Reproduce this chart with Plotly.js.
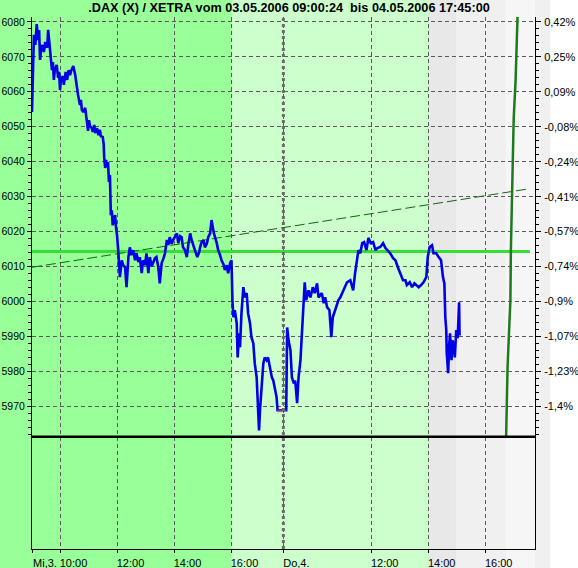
<!DOCTYPE html>
<html><head><meta charset="utf-8">
<script src="https://cdn.plot.ly/plotly-3.0.1.min.js"></script>
<style>html,body{margin:0;padding:0;background:#fff}#chart{width:578px;height:568px}</style>
</head><body><div id="chart"></div>
<script>
// ---------- DATA ----------
const chartTitle = '.DAX (X) / XETRA vom 03.05.2006 09:00:24  bis 04.05.2006 17:45:00';

const day1Times = ['09:00','09:02','09:04','09:07','09:10','09:13','09:15','09:17','09:19','09:22','09:25','09:28','09:32','09:34','09:37','09:40','09:42','09:44','09:46','09:48','09:52','09:55','09:57','09:59','10:01','10:05','10:07','10:11','10:14','10:17','10:20','10:23','10:27','10:31','10:34','10:37','10:41','10:43','10:45','10:48','10:52','10:55','10:58','11:00','11:02','11:06','11:08','11:11','11:13','11:17','11:20','11:23','11:25','11:29','11:31','11:32','11:34','11:36','11:38','11:40','11:42','11:44','11:46','11:48','11:50','11:53','11:55','11:57','11:59','12:02','12:05','12:09','12:12','12:16','12:19','12:23','12:26','12:29','12:33','12:37','12:40','12:44','12:47','12:51','12:54','12:58','13:01','13:05','13:08','13:12','13:15','13:19','13:22','13:26','13:29','13:33','13:37','13:40','13:44','13:47','13:50','13:54','13:57','14:01','14:05','14:08','14:12','14:15','14:18','14:22','14:26','14:29','14:33','14:36','14:40','14:43','14:48','14:52','14:54','14:57','15:01','15:04','15:08','15:11','15:15','15:18','15:21','15:23','15:29','15:32','15:36','15:39','15:43','15:46','15:50','15:53','15:57','16:00','16:02','16:04','16:07','16:11','16:13','16:16','16:18','16:21','16:25','16:28','16:32','16:35','16:39','16:42','16:46','16:49','16:53','16:56','16:58','17:00','17:03','17:07','17:10','17:14','17:17','17:21','17:25','17:28','17:31','17:35','17:37','17:45'];
const day1Prices = [6054.2,6069.1,6076.3,6073.4,6079.4,6074.8,6077.7,6069.1,6072.0,6073.4,6071.4,6074.3,6072.6,6077.7,6073.4,6070.5,6066.2,6068.5,6063.4,6066.2,6067.7,6064.0,6065.7,6060.5,6063.4,6064.5,6062.0,6065.7,6063.4,6066.2,6064.8,6066.2,6067.4,6064.8,6061.4,6059.1,6056.2,6057.7,6054.8,6054.2,6055.4,6052.5,6048.8,6051.9,6050.2,6049.6,6048.5,6050.5,6048.2,6049.6,6047.6,6049.1,6047.3,6047.1,6044.8,6041.3,6038.2,6040.5,6038.5,6039.9,6034.2,6036.2,6024.7,6026.1,6021.8,6023.9,6024.7,6021.0,6019.0,6013.8,6007.0,6011.8,6010.4,6009.8,6004.1,6012.7,6015.5,6013.3,6014.7,6011.8,6013.8,6011.3,6012.7,6008.1,6011.8,6010.4,6013.8,6008.1,6012.7,6010.1,6011.0,6012.4,6012.7,6009.8,6005.2,6011.0,6012.4,6013.8,6017.6,6016.2,6018.4,6016.5,6017.6,6018.7,6019.5,6016.7,6018.7,6018.4,6015.5,6014.7,6012.7,6016.2,6019.5,6017.6,6016.2,6014.7,6012.7,6014.1,6015.5,6017.0,6017.6,6015.5,6016.5,6018.4,6019.5,6023.3,6021.0,6019.5,6016.7,6014.7,6013.3,6011.8,6010.7,6009.0,6010.4,6008.1,6011.0,6011.8,6000.4,5995.5,5997.5,5993.8,5984.0,5990.9,5986.9,5996.6,6004.1,6001.2,6002.4,5996.6,5993.8,5989.8,5988.0,5982.3,5978.3,5970.9,5963.1,5968.9,5974.6,5982.3,5984.0,5983.2,5984.0,5981.2,5978.3,5977.4,5975.4,5972.6,5968.9,5968.9];

const day2Times = ['09:00','09:02','09:05','09:09','09:12','09:16','09:19','09:23','09:26','09:30','09:33','09:37','09:39','09:42','09:47','09:51','09:56','10:00','10:05','10:08','10:15','10:19','10:22','10:26','10:31','10:35','10:38','10:43','10:50','10:54','11:01','11:08','11:15','11:21','11:25','11:29','11:32','11:36','11:40','11:44','11:49','11:53','11:58','12:03','12:08','12:12','12:18','12:24','12:29','12:33','12:39','12:45','12:50','12:55','13:00','13:06','13:11','13:14','13:20','13:25','13:30','13:34','13:39','13:44','13:49','13:55','13:58','14:02','14:07','14:10','14:16','14:21','14:26','14:30','14:33','14:35','14:37','14:38','14:41','14:43','14:45','14:48','14:50','14:52','14:55','14:58','15:01','15:04','15:05'];
const day2Prices = [5968.9,5992.6,5988.9,5986.0,5978.3,5976.6,5977.4,5970.9,5978.3,5983.2,5990.9,5999.5,6005.5,6000.4,6003.2,6001.2,6004.1,6002.4,6005.2,6001.2,6002.4,5999.5,6001.2,5998.4,5997.5,5989.8,5995.5,5997.5,6000.4,6001.2,6003.2,6005.5,6006.1,6003.2,6008.1,6012.7,6014.7,6013.8,6016.7,6017.0,6014.7,6018.2,6016.7,6017.0,6014.7,6015.3,6015.6,6016.7,6015.3,6014.7,6013.8,6012.4,6011.8,6009.8,6008.1,6006.1,6006.1,6004.7,6005.5,6004.1,6005.2,6004.7,6004.1,6004.7,6005.5,6007.0,6012.7,6015.6,6016.1,6013.8,6013.8,6012.7,6011.8,6007.0,6005.2,5995.5,5991.8,5985.2,5979.5,5987.5,5990.9,5983.2,5988.9,5988.0,5984.0,5991.8,5989.5,5999.8,5990.3];

// projection curve (dark green), day 2
const projTimes  = ['16:43','16:44','16:46','16:49','16:52','16:53','16:54','16:56','16:58','16:59','17:03','17:05','17:07'];
const projPrices = [5961.1,5971.7,5981.2,5990.9,6000.4,6014.7,6020.4,6031.9,6041.9,6052.5,6063.4,6074.8,6081.4];

// trend line (dashed) and reference level
const trendTimes  = ['Mi 09:00','Do 17:29'];
const trendPrices = [6009.8, 6032.2];
const refTimes    = ['Mi 09:00','Do 17:33'];
const refLevel    = 6014.3;
const baseLevel   = 5961.3;   // black separator line

// axis ticks
const xTickTimes  = ['Mi 09:00','Mi 10:00','Mi 12:00','Mi 14:00','Mi 16:00','Do 08:54','Do 12:00','Do 14:00','Do 16:00'];
const xTickLabels = ['Mi,3.','10:00','12:00','14:00','16:00','Do,4.','12:00','14:00','16:00'];
const yTickVals   = [6080,6070,6060,6050,6040,6030,6020,6010,6000,5990,5980,5970];
const pctLabels   = ['0,42%','0,25%','0,09%','-0,08%','-0,24%','-0,41%','-0,57%','-0,74%','-0,9%','-1,07%','-1,23%','-1,4%'];

// background session bands
const bandStart  = ['Mi 16:00','Do 14:00','Do 14:57','Do 16:41'];
const bandColors = ['#ccffcc','#e8e8e8','#f0f0f0','#f6f6f6'];

// ---------- AXIS MAPPING (compressed trading time) ----------
const DAY2_OFFSET = 8.92;   // hours of axis used by day 1
const X_END = 17.65;
function pos(day, hm) {
  const [h, m] = hm.split(':').map(Number);
  return (day === 'Do' ? DAY2_OFFSET : 0) + h + m / 60 - 9;
}
function posS(s) { const [d, t] = s.split(' '); return pos(d, t); }

const x1 = day1Times.map(t => pos('Mi', t));
const x2 = day2Times.map(t => pos('Do', t));
const xp = projTimes.map(t => pos('Do', t));

const traces = [
  { x: refTimes.map(posS), y: [refLevel, refLevel], mode: 'lines',
    line: { color: '#33e033', width: 3 }, hoverinfo: 'skip' },
  { x: trendTimes.map(posS), y: trendPrices, mode: 'lines',
    line: { color: '#0b6b0b', width: 1, dash: '10px,4px' }, hoverinfo: 'skip' },
  { x: x1.concat(x2), y: day1Prices.concat(day2Prices), mode: 'lines',
    line: { color: '#0000e6', width: 2.6 }, hoverinfo: 'skip' },
  { x: [x1[x1.length - 2], x2[0]], y: [day1Prices[day1Prices.length - 2], day2Prices[0]], mode: 'lines',
    line: { color: '#b03030', width: 1.5 }, hoverinfo: 'skip' },
  { x: xp, y: projPrices, mode: 'lines', yaxis: 'y2',
    line: { color: '#1d7a1d', width: 2.5 }, hoverinfo: 'skip' }
];

const yRange = [5929.2, 6081.4];
const minorVals = [];
for (let v = 5962; v <= 6080; v += 2) if (v % 10) minorVals.push(v);

const shapes = [];
bandStart.forEach((s, i) => {
  const x0 = posS(s);
  const xe = i + 1 < bandStart.length ? posS(bandStart[i + 1]) : X_END;
  shapes.push({ type: 'rect', layer: 'below', xref: 'x', yref: 'paper', x0: x0, x1: xe, y0: -0.1, y1: 1.1,
    fillcolor: bandColors[i], line: { width: 0 } });
});
shapes.push({ type: 'rect', layer: 'below', xref: 'paper', yref: 'paper', x0: 1, x1: 1.03, y0: -0.1, y1: 1.1,
  fillcolor: '#f0f0f0', line: { width: 0 } });
shapes.push({ type: 'rect', layer: 'below', xref: 'paper', yref: 'paper', x0: 1.03, x1: 1.2, y0: -0.1, y1: 1.1,
  fillcolor: '#ffffff', line: { width: 0 } });
// day separator (dotted)
shapes.push({ type: 'line', layer: 'above', xref: 'x', yref: 'paper', x0: posS(xTickTimes[5]), x1: posS(xTickTimes[5]), y0: 0, y1: 1,
  line: { color: '#6a6a6a', width: 3, dash: 'dot' } });
// base separator
shapes.push({ type: 'line', layer: 'above', xref: 'paper', yref: 'y', x0: 0, x1: 1, y0: baseLevel, y1: baseLevel,
  line: { color: '#000', width: 2.5 } });

const tickFont = { family: 'Liberation Sans, Arial, sans-serif', size: 11, color: '#000' };
const leftFont = { family: 'Liberation Sans, Arial, sans-serif', size: 10.5, color: '#000' };

const layout = {
  width: 578, height: 568,
  margin: { l: 32, r: 43, t: 17, b: 19, pad: 0 },
  paper_bgcolor: '#99ff99',
  plot_bgcolor: 'rgba(0,0,0,0)',
  showlegend: false,
  hovermode: false,
  title: { text: chartTitle, x: 0.5, xref: 'container', y: 1 - 8 / 568, yref: 'container', yanchor: 'middle',
    font: { family: 'Liberation Sans, Arial, sans-serif', size: 12.7, color: '#000', weight: 700 } },
  xaxis: {
    range: [0, X_END], fixedrange: true, zeroline: false,
    tickmode: 'array', tickvals: xTickTimes.map(posS), ticktext: xTickLabels,
    ticks: 'outside', ticklen: 3, tickcolor: '#000', tickwidth: 1,
    ticklabelshift: 13, ticklabelstandoff: 1,
    showline: true, linecolor: '#000', linewidth: 1,
    showgrid: true, gridcolor: '#5a5a5a', gridwidth: 1, griddash: '4px,3px',
    tickfont: tickFont
  },
  yaxis: {
    range: yRange, fixedrange: true, zeroline: false,
    tickmode: 'array', tickvals: yTickVals, ticktext: yTickVals.map(String),
    ticks: 'outside', ticklen: 4, tickcolor: '#000',
    showline: true, linecolor: '#000', linewidth: 1,
    showgrid: true, gridcolor: '#5a5a5a', gridwidth: 1, griddash: '4px,3px',
    minor: { tickmode: 'array', tickvals: minorVals, ticks: 'outside', ticklen: 3, tickcolor: '#000', showgrid: false },
    tickfont: leftFont, ticklabelstandoff: 0
  },
  yaxis2: {
    overlaying: 'y', side: 'right', range: yRange, fixedrange: true, zeroline: false,
    tickmode: 'array', tickvals: yTickVals, ticktext: pctLabels,
    ticks: 'outside', ticklen: 5, tickcolor: '#000',
    showline: true, linecolor: '#000', linewidth: 1, showgrid: false,
    minor: { tickmode: 'array', tickvals: minorVals, ticks: 'outside', ticklen: 3, tickcolor: '#000', showgrid: false },
    tickfont: tickFont, ticklabelstandoff: 1
  },
  shapes: shapes
};

Plotly.newPlot('chart', traces, layout, { staticPlot: true, displayModeBar: false });
</script>
</body></html>
